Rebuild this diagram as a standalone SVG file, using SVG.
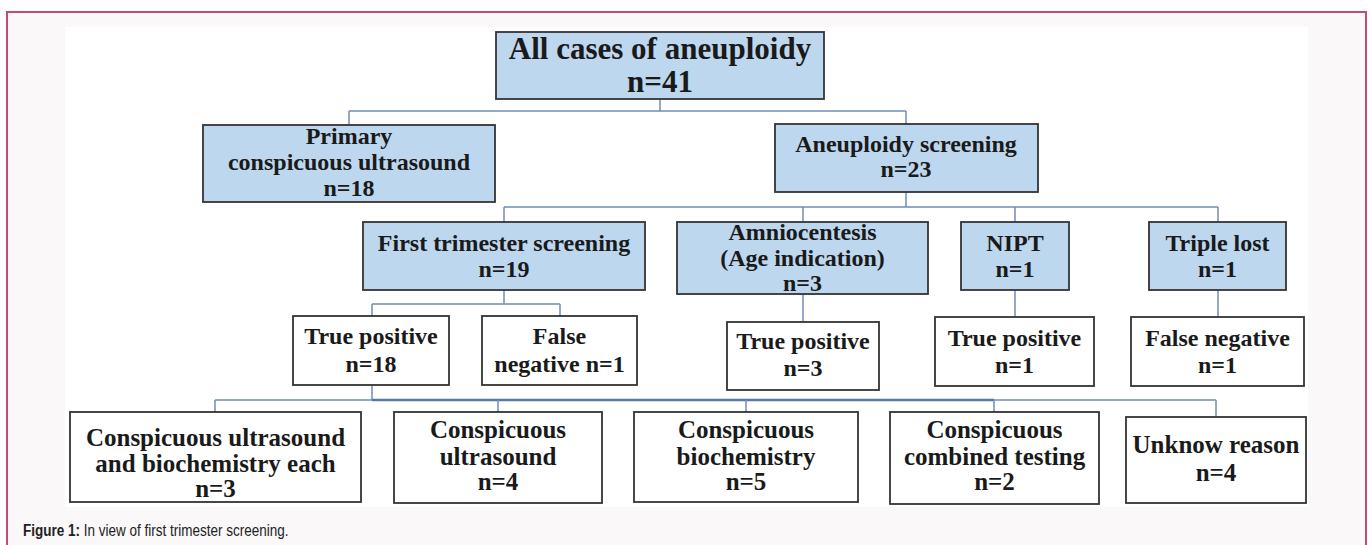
<svg xmlns="http://www.w3.org/2000/svg" width="1370" height="545" viewBox="0 0 1370 545">
<style>
.box{stroke:#333;stroke-width:1.8}
.blue{fill:#bdd7ee}
.white{fill:#fff}
.t{font-family:"Liberation Serif","Times New Roman",serif;font-weight:bold;fill:#1a1a1a;text-anchor:middle}
.s31{font-size:31px}
.s24{font-size:24px}
.s25{font-size:25px}
.conn line{stroke:#6f8db5;stroke-width:1.5;fill:none}
.conn line.strong{stroke:#5577aa;stroke-width:2.5}
.cap{font-family:"Liberation Sans",Arial,sans-serif;font-size:13.5px;fill:#222}
</style>
<rect x="0" y="0" width="1370" height="545" fill="#fff"/>
<rect x="7" y="12" width="1359" height="560" fill="#faf8f9" stroke="#c24d6e" stroke-width="2"/>
<rect x="65" y="27" width="1243" height="480" fill="#fff"/>

<g id="connectors" class="conn">
<line x1="660" y1="99" x2="660" y2="111"/>
<line x1="349" y1="111" x2="906" y2="111"/>
<line x1="349" y1="111" x2="349" y2="125"/>
<line x1="906" y1="111" x2="906" y2="124"/>
<line x1="906" y1="192" x2="906" y2="207"/>
<line x1="504" y1="207" x2="1218" y2="207"/>
<line x1="504" y1="207" x2="504" y2="222"/>
<line x1="803" y1="207" x2="803" y2="222"/>
<line x1="1015" y1="207" x2="1015" y2="222"/>
<line x1="1218" y1="207" x2="1218" y2="222"/>
<line x1="504" y1="290" x2="504" y2="304"/>
<line x1="372" y1="304" x2="560" y2="304"/>
<line x1="372" y1="304" x2="372" y2="316"/>
<line x1="560" y1="304" x2="560" y2="316"/>
<line x1="803" y1="294" x2="803" y2="322"/>
<line x1="1015" y1="290" x2="1015" y2="317"/>
<line x1="1218" y1="290" x2="1218" y2="317"/>
<line x1="372" y1="385" x2="372" y2="400"/>
<line x1="215" y1="400" x2="1216" y2="400"/>
<line class="strong" x1="372" y1="400" x2="994" y2="400"/>
<line x1="215" y1="400" x2="215" y2="412"/>
<line x1="498" y1="400" x2="498" y2="412"/>
<line x1="746" y1="400" x2="746" y2="412"/>
<line x1="994" y1="400" x2="994" y2="412"/>
<line x1="1216" y1="400" x2="1216" y2="417"/>
</g>

<g id="root">
<rect class="box blue" x="496" y="32" width="328" height="67"/>
<text class="t s31" x="660" y="59">All cases of aneuploidy</text>
<text class="t s31" x="660" y="92">n=41</text>
</g>
<g id="primary">
<rect class="box blue" x="203" y="125" width="292" height="77"/>
<text class="t s24" x="349" y="144">Primary</text>
<text class="t s24" x="349" y="170">conspicuous ultrasound</text>
<text class="t s24" x="349" y="196">n=18</text>
</g>
<g id="screening">
<rect class="box blue" x="775" y="124" width="263" height="68"/>
<text class="t s24" x="906" y="152">Aneuploidy screening</text>
<text class="t s24" x="906" y="177">n=23</text>
</g>
<g id="fts">
<rect class="box blue" x="363" y="222" width="282" height="68"/>
<text class="t s24" x="504" y="251">First trimester screening</text>
<text class="t s24" x="504" y="277">n=19</text>
</g>
<g id="amnio">
<rect class="box blue" x="677" y="222" width="251" height="72"/>
<text class="t s24" x="802.5" y="240">Amniocentesis</text>
<text class="t s24" x="802.5" y="266">(Age indication)</text>
<text class="t s24" x="802.5" y="291">n=3</text>
</g>
<g id="nipt">
<rect class="box blue" x="961" y="222" width="108" height="68"/>
<text class="t s24" x="1015" y="251">NIPT</text>
<text class="t s24" x="1015" y="277">n=1</text>
</g>
<g id="triple">
<rect class="box blue" x="1149" y="222" width="137" height="68"/>
<text class="t s24" x="1217.5" y="251">Triple lost</text>
<text class="t s24" x="1217.5" y="277">n=1</text>
</g>
<g id="tp1">
<rect class="box white" x="293" y="316" width="156" height="69"/>
<text class="t s24" x="371" y="344">True positive</text>
<text class="t s24" x="371" y="372">n=18</text>
</g>
<g id="fn1">
<rect class="box white" x="482" y="316" width="155" height="69"/>
<text class="t s24" x="559.5" y="344">False</text>
<text class="t s24" x="559.5" y="372">negative n=1</text>
</g>
<g id="tp2">
<rect class="box white" x="727" y="322" width="152" height="68"/>
<text class="t s24" x="803" y="349">True positive</text>
<text class="t s24" x="803" y="376">n=3</text>
</g>
<g id="tp3">
<rect class="box white" x="935" y="317" width="159" height="69"/>
<text class="t s24" x="1014.5" y="346">True positive</text>
<text class="t s24" x="1014.5" y="373">n=1</text>
</g>
<g id="fn2">
<rect class="box white" x="1131" y="317" width="173" height="69"/>
<text class="t s24" x="1217.5" y="346">False negative</text>
<text class="t s24" x="1217.5" y="373">n=1</text>
</g>
<g id="b1">
<rect class="box white" x="70" y="412" width="291" height="90"/>
<text class="t s25" x="215.5" y="446">Conspicuous ultrasound</text>
<text class="t s25" x="215.5" y="472">and biochemistry each</text>
<text class="t s25" x="215.5" y="497">n=3</text>
</g>
<g id="b2">
<rect class="box white" x="394" y="412" width="208" height="91"/>
<text class="t s25" x="498" y="438">Conspicuous</text>
<text class="t s25" x="498" y="465">ultrasound</text>
<text class="t s25" x="498" y="490">n=4</text>
</g>
<g id="b3">
<rect class="box white" x="634" y="412" width="224" height="90"/>
<text class="t s25" x="746" y="438">Conspicuous</text>
<text class="t s25" x="746" y="465">biochemistry</text>
<text class="t s25" x="746" y="490">n=5</text>
</g>
<g id="b4">
<rect class="box white" x="890" y="412" width="209" height="92"/>
<text class="t s25" x="994.5" y="438">Conspicuous</text>
<text class="t s25" x="994.5" y="465">combined testing</text>
<text class="t s25" x="994.5" y="490">n=2</text>
</g>
<g id="b5">
<rect class="box white" x="1126" y="417" width="180" height="86"/>
<text class="t s25" x="1216" y="453">Unknow reason</text>
<text class="t s25" x="1216" y="481">n=4</text>
</g>

<text class="cap" transform="translate(23 536) scale(1 1.2)"><tspan font-weight="bold">Figure 1:</tspan> In view of first trimester screening.</text>
</svg>
